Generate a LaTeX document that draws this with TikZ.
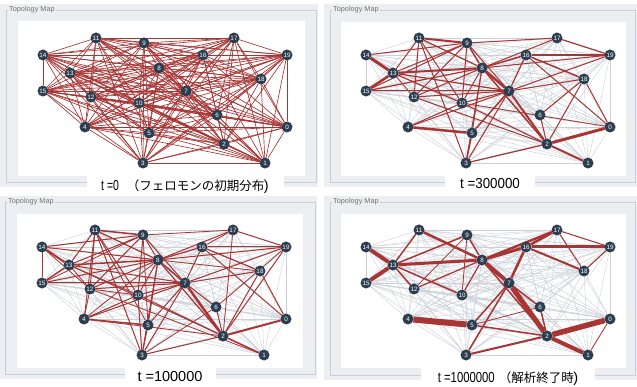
\documentclass[tikz,border=0pt]{standalone}
\usepackage{fontspec}
\setmainfont{Liberation Sans}
\newfontfamily\jpfont{Noto Sans CJK JP}
\usetikzlibrary{positioning}
\definecolor{sitefill}{HTML}{2C3E50}
\definecolor{pheromone}{HTML}{A83434}
\definecolor{faint}{HTML}{CBD0D8}
\definecolor{panelbg}{HTML}{ECEEF2}
\definecolor{frameline}{HTML}{C4D0DD}
\newcommand{\defaultsitesize}{11pt}
\newcommand{\sitesize}{\defaultsitesize}
\newcommand{\jp}[1]{{\jpfont\fontsize{12.5}{12.5}\selectfont #1}}
\newcommand{\narrow}[2]{\scalebox{#1}[1]{#2}}
\pgfdeclarelayer{panel}
\pgfdeclarelayer{edges}
\pgfsetlayers{panel,edges,main}
\tikzstyle{site}=[circle, fill=sitefill, text=white, inner sep=0, outer sep=0, minimum size=\sitesize,
                  font=\fontsize{6.3}{6.3}\selectfont]
\tikzstyle{trail}=[draw=pheromone, line width=0.65pt]
\tikzstyle{faded}=[draw=faint, line width=0.4pt]
\tikzstyle{frame}=[draw=frameline, line width=0.6pt]
\tikzstyle{maptitle}=[anchor=west, fill=panelbg, inner xsep=1pt, inner ysep=0.5pt, text=black!55,
                      font=\fontsize{7.3}{7.3}\selectfont]
\tikzstyle{caption}=[fill=white, inner ysep=5pt, text depth=0pt, font=\fontsize{14.5}{14.5}\selectfont]
\tikzstyle{topology}=[x=1pt, y=-1pt]

% the twenty sites of the map, in panel coordinates
\newcommand{\placesites}{%
  \foreach \n/\x/\y in {0/287/127, 1/265/163, 2/224/144, 3/143/163, 4/85/127,
                        5/149/133, 6/217/115, 7/186/91, 8/159/68, 9/144/43,
                        10/139/103, 11/96/38, 12/91/97, 13/70/73, 14/43/55,
                        15/43/91, 16/203/55, 17/234/38, 18/261/79, 19/287/55}
    \node[site] (n\n) at (\x,\y) {\n};
}
% every pair of sites joined
\newcommand{\allpairs}[1]{%
  \foreach \i in {0,...,18}{
    \pgfmathtruncatemacro{\nexti}{\i+1}
    \foreach \j in {\nexti,...,19}
      \draw[#1] (n\i) -- (n\j);
  }
}
% panel background: frame corners, inner sheet corners
\newcommand{\mappanel}[6]{%
  \begin{pgfonlayer}{panel}
    \fill[panelbg] (#1-6,#2-6) rectangle (#3+2,#4+5);
    \draw[frame] (#1,#2) rectangle (#3,#4);
    \fill[white] (#5) rectangle (#6);
  \end{pgfonlayer}
  \node[maptitle] (title) at (#1+2,#2) {Topology Map};
}

\begin{document}
\begin{tikzpicture}[topology]
  \useasboundingbox (0,0) rectangle (637,387);
  \begin{pgfonlayer}{panel}
    \fill[white] (0,0) rectangle (637,387);
  \end{pgfonlayer}

  % t = 0
  \begin{scope}[name prefix=a-]
    \mappanel{6}{10}{316}{182}{18,21}{305,176}
    \placesites
    \begin{pgfonlayer}{edges}
      \allpairs{trail}
    \end{pgfonlayer}
    \node[caption, minimum width=197pt] (label) at (185,185) {\narrow{0.72}{t =0}\ \ \jp{（フェロモンの初期分布}\kern-0.5pt)};
  \end{scope}

  % t = 300000
  \begin{scope}[name prefix=b-]
    \mappanel{330}{10}{635}{182}{341,22}{626,176}
    \begin{scope}[shift={(323,0)}]
      \placesites
    \end{scope}
    \begin{pgfonlayer}{edges}
      \allpairs{faded}
      \foreach \a/\b/\w in {14/13/3, 15/13/2.5, 14/9/1, 11/9/2, 11/8/1.2, 11/13/1, 11/12/1, 11/10/1,
                            11/3/1, 13/9/1, 13/8/2, 13/7/1.2, 13/10/1.2, 13/12/0.8, 15/8/1.2, 15/9/1,
                            15/7/1, 12/9/1, 12/8/1, 12/7/1, 10/9/1, 10/8/1, 10/7/1, 4/5/2.5, 4/10/1,
                            4/7/1, 5/8/1, 5/7/1.5, 5/3/1.5, 3/8/1, 3/2/1.2, 9/8/1.5, 9/7/1, 8/16/1.5,
                            8/17/1, 8/19/1, 8/7/2.5, 8/2/1.5, 7/2/2, 7/16/1.2, 7/19/1, 7/18/1,
                            16/19/1.5, 16/18/1.5, 16/0/1, 17/19/1.2, 9/17/1, 18/2/1, 18/0/1, 6/2/1,
                            6/18/1, 2/0/3, 2/1/2, 2/12/1, 2/10/1, 10/0/0.8, 3/7/1}
        \draw[trail, line width=\w pt] (n\a) -- (n\b);
    \end{pgfonlayer}
    \node[caption, minimum width=90pt] (label) at (490,183) {\narrow{0.92}{t =300000}};
  \end{scope}

  % t = 100000
  \begin{scope}[name prefix=c-]
    \mappanel{5}{202}{315}{374}{17,214}{303,368}
    \begin{scope}[shift={(-1,192)}]
      \placesites
    \end{scope}
    \begin{pgfonlayer}{edges}
      \allpairs{faded}
      \foreach \a/\b/\w in {14/13/2, 14/15/1, 15/13/1.5, 14/9/1, 14/8/1, 14/12/0.8, 15/8/1, 15/7/1,
                            15/9/0.8, 11/9/1.5, 11/8/1.2, 11/13/1, 11/12/1, 11/10/1, 11/5/0.8, 11/3/1,
                            11/4/0.8, 13/8/1.5, 13/7/1, 13/10/1, 13/12/0.8, 13/9/1, 12/9/1, 12/8/1,
                            12/7/1, 12/10/0.8, 12/4/0.8, 10/9/1, 10/8/1, 10/7/1, 10/3/1, 10/2/1,
                            4/5/1.5, 4/10/1, 4/7/1, 4/8/0.8, 4/2/0.8, 5/8/1, 5/7/1, 5/3/1, 5/9/0.8,
                            3/8/1, 3/7/1, 3/2/1, 3/6/0.8, 9/8/1, 9/7/1, 9/17/0.8, 8/16/1.2, 8/17/1,
                            8/19/1, 8/18/0.8, 8/7/1.5, 8/2/1.2, 7/2/2.5, 7/16/1, 7/19/1, 7/18/1,
                            7/6/1, 16/17/0.8, 16/19/1, 16/18/1.2, 16/0/1, 17/19/1, 17/2/0.8, 18/2/1,
                            18/0/1, 19/2/1, 19/6/0.8, 6/2/1, 2/0/2, 2/1/1.5, 1/12/0.8, 13/2/0.8}
        \draw[trail, line width=\w pt] (n\a) -- (n\b);
    \end{pgfonlayer}
    \node[caption, minimum width=91pt] (label) at (170,376) {t =100000};
  \end{scope}

  % t = 1000000
  \begin{scope}[name prefix=d-]
    \mappanel{330}{202}{635}{375}{341,214}{626,368}
    \begin{scope}[shift={(323,192)}]
      \placesites
    \end{scope}
    \begin{pgfonlayer}{edges}
      \allpairs{faded}
      \foreach \a/\b/\w in {14/13/4, 15/13/4, 13/11/1.5, 13/9/1.5, 13/8/3, 13/12/1.5, 13/10/1.5,
                            11/8/2.5, 9/8/1.5, 9/12/0.8, 9/10/0.8, 12/8/1.2, 10/8/1.2, 8/16/3,
                            8/17/2.5, 8/7/4, 16/17/2.5, 16/19/3, 16/18/2, 17/19/1, 17/18/1, 19/18/1,
                            16/7/2.5, 7/2/5, 8/2/1.5, 7/6/1.5, 7/5/1.5, 7/3/1.5, 6/2/1.5, 6/5/0.8,
                            4/5/6, 5/2/1.5, 3/2/2, 2/0/5.5, 2/1/4, 0/1/0.8}
        \draw[trail, line width=\w pt] (n\a) -- (n\b);
    \end{pgfonlayer}
    \node[caption, minimum width=174pt] (label) at (508,377) {\narrow{0.78}{t =1000000}\ \jp{（解析終了時}\kern-0.5pt)};
  \end{scope}
\end{tikzpicture}
\end{document}
